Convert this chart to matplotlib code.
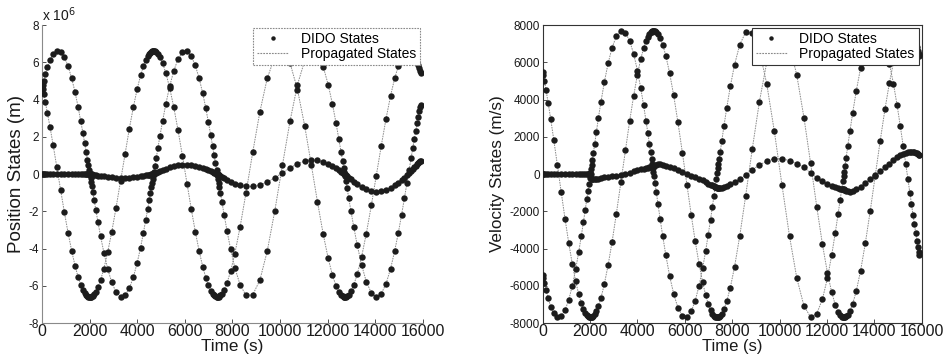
import matplotlib
matplotlib.use('Agg')
import matplotlib.pyplot as plt
from matplotlib.lines import Line2D

plt.rcParams['font.family'] = ['Liberation Sans', 'DejaVu Sans']
plt.rcParams['axes.unicode_minus'] = False

# DIDO node times (s), five phases
t_nodes = [
    0, 25, 70, 140, 230, 340, 470, 620, 780, 940, 1100, 1250, 1390, 1520, 1630, 1720,
    1795, 1860, 1910, 1950, 1985, 2015, 2040,
    2065, 2095, 2135, 2190, 2260, 2350, 2460, 2600, 2760, 2930, 3110, 3300, 3490, 3670,
    3840, 4000, 4140, 4260, 4360, 4440, 4505, 4555, 4595, 4625, 4648,
    4672, 4700, 4740, 4795, 4865, 4955, 5065, 5200, 5360, 5530, 5710, 5900, 6090, 6270,
    6440, 6600, 6750, 6880, 6990, 7085, 7165, 7230, 7285, 7330, 7365, 7395,
    7420, 7450, 7495, 7560, 7650, 7770, 7920, 8100, 8320, 8570, 8850, 9150, 9460, 9780,
    10100, 10420, 10730, 11030, 11310, 11570, 11810, 12020, 12200, 12350, 12470, 12560,
    12625, 12670, 12700,
    12725, 12760, 12810, 12880, 12970, 13090, 13240, 13420, 13620, 13830, 14040, 14250,
    14450, 14640, 14810, 14960, 15100, 15220, 15330, 15420, 15500, 15570, 15635, 15695,
    15750, 15800, 15845, 15880, 15900,
]

# position states (x 1e6 m)
pos_x = [
    4.65, 4.79, 5.02, 5.35, 5.73, 6.11, 6.42, 6.59, 6.55, 6.28, 5.78, 5.13, 4.39, 3.59, 2.84, 2.20,
    1.65, 1.16, 0.77, 0.46, 0.19, -0.04, -0.23,
    -0.43, -0.66, -0.96, -1.39, -1.91, -2.57, -3.33, -4.22, -5.09, -5.82, -6.34, -6.59, -6.51, -6.13,
    -5.53, -4.76, -3.95, -3.16, -2.46, -1.88, -1.39, -1.01, -0.70, -0.47, -0.29,
    -0.11, 0.11, 0.42, 0.84, 1.38, 2.05, 2.84, 3.75, 4.70, 5.52, 6.16, 6.53, 6.58, 6.32,
    5.83, 5.14, 4.34, 3.54, 2.79, 2.11, 1.51, 1.02, 0.59, 0.24, -0.03, -0.26,
    -0.46, -0.69, -1.03, -1.52, -2.19, -3.04, -4.03, -5.03, -5.95, -6.52, -6.49, -5.70, -4.14, -1.96,
    0.49, 2.86, 4.80, 6.07, 6.58, 6.43, 5.76, 4.80, 3.74, 2.73, 1.86, 1.18,
    0.68, 0.34, 0.10,
    -0.09, -0.36, -0.75, -1.29, -1.96, -2.82, -3.83, -4.87, -5.78, -6.38, -6.60, -6.42,
    -5.89, -5.08, -4.14, -3.19, -2.20, -1.30, -0.46, 0.24, 0.86, 1.39, 1.88, 2.32,
    2.72, 3.06, 3.37, 3.60, 3.73,
]
pos_y = [
    4.69, 4.55, 4.28, 3.86, 3.27, 2.51, 1.55, 0.40, -0.84, -2.05, -3.18, -4.14, -4.93, -5.54, -5.95, -6.22,
    -6.39, -6.50, -6.55, -6.59, -6.60, -6.60, -6.59,
    -6.59, -6.57, -6.53, -6.45, -6.32, -6.08, -5.70, -5.08, -4.20, -3.11, -1.82, -0.37, 1.10, 2.44,
    3.60, 4.57, 5.29, 5.79, 6.12, 6.33, 6.45, 6.52, 6.56, 6.58, 6.59,
    6.60, 6.60, 6.59, 6.55, 6.45, 6.27, 5.95, 5.43, 4.64, 3.62, 2.38, 0.96, -0.51, -1.88,
    -3.10, -4.13, -4.97, -5.57, -5.98, -6.26, -6.42, -6.52, -6.57, -6.59, -6.60, -6.59,
    -6.59, -6.57, -6.52, -6.42, -6.22, -5.85, -5.23, -4.27, -2.84, -1.00, 1.16, 3.33, 5.14, 6.30,
    6.58, 5.95, 4.53, 2.60, 0.50, -1.50, -3.23, -4.53, -5.44, -6.01, -6.34, -6.49,
    -6.57, -6.59, -6.60,
    -6.60, -6.59, -6.56, -6.47, -6.30, -5.97, -5.38, -4.46, -3.20, -1.69, -0.09, 1.53,
    2.98, 4.21, 5.13, 5.78, 6.22, 6.47, 6.59, 6.59, 6.54, 6.45, 6.33, 6.18,
    6.01, 5.85, 5.68, 5.53, 5.45,
]
pos_z = [
    0.00, 0.00, 0.00, 0.00, 0.00, 0.00, 0.00, 0.00, 0.00, 0.00, 0.00, 0.00, 0.00, 0.00, 0.00, 0.00,
    0.00, 0.00, 0.00, 0.00, 0.00, 0.00, 0.00,
    -0.01, -0.02, -0.03, -0.04, -0.06, -0.08, -0.10, -0.13, -0.15, -0.18, -0.19, -0.20, -0.20, -0.19,
    -0.17, -0.14, -0.12, -0.10, -0.07, -0.06, -0.04, -0.03, -0.02, -0.01, -0.01,
    -0.01, 0.01, 0.03, 0.06, 0.10, 0.16, 0.22, 0.28, 0.36, 0.42, 0.47, 0.50, 0.50, 0.48,
    0.44, 0.39, 0.33, 0.27, 0.21, 0.16, 0.11, 0.08, 0.05, 0.02, 0.00, -0.02,
    -0.05, -0.07, -0.11, -0.16, -0.23, -0.31, -0.41, -0.52, -0.61, -0.67, -0.67, -0.59, -0.43, -0.20,
    0.06, 0.33, 0.55, 0.69, 0.75, 0.73, 0.65, 0.55, 0.42, 0.31, 0.21, 0.13,
    0.08, 0.04, 0.01,
    -0.01, -0.05, -0.11, -0.19, -0.28, -0.41, -0.55, -0.70, -0.83, -0.92, -0.95, -0.92,
    -0.85, -0.73, -0.60, -0.46, -0.32, -0.19, -0.07, 0.05, 0.16, 0.26, 0.36, 0.44,
    0.52, 0.58, 0.64, 0.68, 0.71,
]

# velocity states (m/s)
vel_x = [
    5470, 5310, 5000, 4500, 3820, 2930, 1810, 470, -980, -2390, -3710, -4840, -5750, -6460, -6950, -7260,
    -7450, -7580, -7650, -7680, -7700, -7700, -7690,
    -7680, -7660, -7620, -7530, -7370, -7090, -6650, -5920, -4900, -3630, -2130, -430, 1280, 2840,
    4200, 5340, 6180, 6760, 7150, 7380, 7530, 7610, 7650, 7680, 7690,
    7700, 7700, 7680, 7640, 7530, 7320, 6950, 6340, 5410, 4220, 2770, 1120, -600, -2190,
    -3620, -4820, -5800, -6500, -6980, -7300, -7490, -7610, -7670, -7690, -7700, -7690,
    -7680, -7660, -7610, -7490, -7260, -6830, -6110, -4980, -3320, -1160, 1360, 3890, 6000, 7350,
    7680, 6940, 5290, 3030, 590, -1750, -3770, -5290, -6340, -7010, -7390, -7580,
    -7660, -7690, -7700,
    -7700, -7680, -7650, -7550, -7350, -6960, -6280, -5200, -3730, -1970, -100, 1790,
    3470, 4910, 5990, 6750, 7260, 7550, 7680, 7690, 7630, 7520, 7380, 7210,
    7010, 6820, 6620, 6450, 6350,
]
vel_y = [
    -5430, -5580, -5850, -6240, -6680, -7120, -7480, -7680, -7640, -7320, -6750, -5990, -5120, -4190, -3320, -2570,
    -1930, -1350, -900, -540, -220, 50, 270,
    500, 770, 1120, 1620, 2230, 3000, 3880, 4920, 5940, 6790, 7400, 7680, 7590, 7150,
    6450, 5550, 4600, 3690, 2870, 2190, 1620, 1180, 820, 550, 340,
    120, -130, -490, -990, -1610, -2390, -3320, -4370, -5480, -6440, -7180, -7620, -7680, -7380,
    -6800, -6000, -5070, -4130, -3250, -2460, -1760, -1190, -690, -280, 30, 300,
    530, 800, 1200, 1780, 2560, 3550, 4700, 5870, 6950, 7610, 7580, 6650, 4830, 2290,
    -570, -3340, -5600, -7080, -7680, -7500, -6720, -5600, -4360, -3180, -2170, -1380,
    -790, -390, -120,
    110, 420, 880, 1500, 2290, 3300, 4470, 5680, 6740, 7450, 7700, 7490,
    6870, 5930, 4840, 3720, 2560, 1520, 530, -280, -1000, -1620, -2190, -2710,
    -3170, -3570, -3930, -4200, -4350,
]
vel_z = [
    0, 0, 0, 0, 0, 0, 0, 0, 0, 0, 0, 0, 0, 0, 0, 0,
    0, 0, 0, 0, 0, 0, 0,
    -270, -285, -290, -280, -265, -250, -225, -185, -155, -125, -90, -55, 15, 80,
    145, 200, 245, 285, 320, 345, 365, 380, 390, 400, 410,
    430, 450, 470, 500, 530, 520, 500, 450, 400, 320, 220, 110, 0, -80,
    -160, -250, -340, -440, -520, -570, -610, -650, -680, -710, -730, -750,
    -760, -770, -770, -740, -710, -650, -560, -420, -280, -50, 240, 480, 700, 830,
    820, 720, 560, 350, 70, -200, -400, -540, -620, -690, -740, -780,
    -800, -820, -830,
    -840, -860, -890, -920, -950, -920, -830, -680, -490, -270, -50, 150,
    360, 560, 740, 890, 1020, 1100, 1150, 1180, 1200, 1200, 1200, 1180,
    1150, 1120, 1080, 1040, 1010,
]

legend_labels = ['DIDO States', 'Propagated States']

dot_c = '#1c1c1c'
line_c = '#8a8a8a'
dash = (0, (1.6, 1.0))
text_c = '#1a1a1a'

fig = plt.figure(figsize=(9.45, 3.64), dpi=100)
ax1 = fig.add_axes([0.0444, 0.1126, 0.4032, 0.8187])
ax2 = fig.add_axes([0.5743, 0.1126, 0.4010, 0.8187])

for ax, series in ((ax1, (pos_x, pos_y, pos_z)), (ax2, (vel_x, vel_y, vel_z))):
    for vals in series:
        ax.plot(t_nodes, vals, color=line_c, lw=0.7, ls=dash, zorder=2)
        ax.plot(t_nodes, vals, 'o', ms=4.6, color=dot_c, mec='none', zorder=3)
    ax.set_xlim(0, 16000)
    ax.set_xticks(range(0, 16001, 2000))
    ax.tick_params(direction='in', length=3, width=0.6, colors='#333333',
                   labelcolor=text_c)
    ax.tick_params(axis='x', labelsize=11.5, pad=1)
    ax.tick_params(axis='y', labelsize=8.5, pad=2)
    handles = [Line2D([], [], marker='o', ms=2.2, ls='none', color=dot_c),
               Line2D([], [], color=line_c, lw=0.8, ls=dash)]
    leg = ax.legend(handles, legend_labels, loc='upper right', bbox_to_anchor=(0.992, 0.99),
                    borderaxespad=0, fontsize=10, frameon=True, fancybox=False,
                    borderpad=0.3, labelspacing=0.05, handlelength=2.2, handletextpad=0.9)
    leg.get_frame().set_facecolor('white')
    leg.get_frame().set_alpha(1)
    leg.set_zorder(5)

# left panel: MATLAB-like offset text, dotted light axes
ax1.set_ylim(-8, 8)
ax1.set_yticks(range(-8, 9, 2))
ax1.set_xlabel('Time (s)', fontsize=12.3, labelpad=0, color=text_c)
ax1.set_ylabel('Position States (m)', fontsize=13.5, labelpad=3, color=text_c)
ax1.text(0.0, 1.003, r'x 10$^{6}$', transform=ax1.transAxes, fontsize=10,
         ha='left', va='bottom', color=text_c)
ax1.spines['top'].set_visible(False)
ax1.spines['right'].set_visible(False)
for side in ('left', 'bottom'):
    ax1.spines[side].set_linestyle((0, (1.5, 1.0)))
    ax1.spines[side].set_color('#8a8a8a')
    ax1.spines[side].set_linewidth(0.8)
f1 = ax1.get_legend().get_frame()
f1.set_edgecolor('#8a8a8a')
f1.set_linestyle((0, (1.5, 1.0)))
f1.set_linewidth(0.8)

# right panel: solid box
ax2.set_ylim(-8000, 8000)
ax2.set_yticks(range(-8000, 8001, 2000))
ax2.set_xlabel('Time (s)', fontsize=12, labelpad=0, color=text_c)
ax2.set_ylabel('Velocity States (m/s)', fontsize=12.3, labelpad=3, color=text_c)
for side in ax2.spines:
    ax2.spines[side].set_color('#333333')
    ax2.spines[side].set_linewidth(0.8)
f2 = ax2.get_legend().get_frame()
f2.set_edgecolor('#333333')
f2.set_linewidth(0.8)

fig.savefig('out.png', dpi=100)
